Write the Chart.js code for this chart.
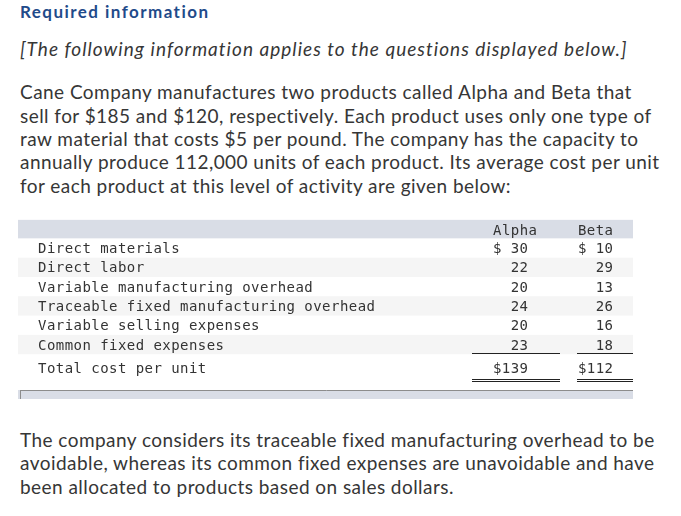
<!DOCTYPE html>
<html>
<head>
<meta charset="utf-8">
<script src="https://cdn.jsdelivr.net/npm/chart.js@4.4.1/dist/chart.umd.min.js"></script>
<style>
  body { margin: 0; width: 681px; height: 516px; background: #fff; position: relative; overflow: hidden; color: #363636; font-family: Lato, "Open Sans", sans-serif; }
  .ln { position: absolute; left: 20px; white-space: nowrap; height: 23px; line-height: 23px; font-size: 19px; letter-spacing: 0.45px; }
  .title { font-weight: bold; color: #1f4b8a; font-size: 17px; letter-spacing: 1.45px; }
  .note { font-style: italic; letter-spacing: 1.03px; }
  #tableWrap { position: absolute; left: 0; top: 210px; width: 681px; height: 200px; }
</style>
</head>
<body>
<div class="ln title" style="top:0px">Required information</div>
<div class="ln note" style="top:37px">[The following information applies to the questions displayed below.]</div>

<div class="ln" style="top:80px">Cane Company manufactures two products called Alpha and Beta that</div>
<div class="ln" style="top:104px">sell for $185 and $120, respectively. Each product uses only one type of</div>
<div class="ln" style="top:127px">raw material that costs $5 per pound. The company has the capacity to</div>
<div class="ln" style="top:150px">annually produce 112,000 units of each product. Its average cost per unit</div>
<div class="ln" style="top:174px">for each product at this level of activity are given below:</div>

<div id="tableWrap"><canvas id="costTable" width="681" height="200"></canvas></div>

<div class="ln" style="top:428px">The company considers its traceable fixed manufacturing overhead to be</div>
<div class="ln" style="top:451px">avoidable, whereas its common fixed expenses are unavoidable and have</div>
<div class="ln" style="top:475px">been allocated to products based on sales dollars.</div>

<script>
// table data
const rowLabels = [
  "Direct materials",
  "Direct labor",
  "Variable manufacturing overhead",
  "Traceable fixed manufacturing overhead",
  "Variable selling expenses",
  "Common fixed expenses",
  "Total cost per unit"
];
const productNames = ["Alpha", "Beta"];
const alphaCosts = [30, 22, 20, 24, 20, 23, 139];
const betaCosts = [10, 29, 13, 26, 16, 18, 112];

// layout of the two money columns (cell edges, text right edge, header right edge)
const moneyCols = [
  { left: 472, right: 560, textRight: 528, headRight: 537 },
  { left: 577, right: 633, textRight: 613, headRight: 613 }
];
const TOTAL_GAP = 4.2;
const TEXT_SHIFT = 1.5;
const monoFont = '14px "DejaVu Sans Mono", "Liberation Mono", monospace';

function fmt(v, i, last) {
  if (i === 0 || i === last) return "$" + String(v).padStart(3, " ");
  return String(v);
}

const tablePlugin = {
  id: "costTable",
  beforeDatasetsDraw(chart) {
    const { ctx, chartArea: a, scales: { y } } = chart;
    const band = y.getPixelForValue(1) - y.getPixelForValue(0);
    const last = rowLabels.length - 1;
    ctx.save();
    // header band
    ctx.fillStyle = "#d9dde6";
    ctx.fillRect(a.left, a.top - 18.5, a.right - a.left, 18.5);
    // striped rows
    ctx.fillStyle = "#f5f5f5";
    rowLabels.forEach((l, i) => {
      if (i % 2 === 1 && i < last) {
        ctx.fillRect(a.left, y.getPixelForValue(i) - band / 2, a.right - a.left, band);
      }
    });
    // bottom band
    const totalY = y.getPixelForValue(last) + TOTAL_GAP;
    const bandTop = Math.round(totalY + 22);
    ctx.fillStyle = "#d9dde6";
    ctx.fillRect(a.left, bandTop, a.right - a.left, 9);
    ctx.strokeStyle = "#8c8c8c";
    ctx.lineWidth = 1;
    ctx.beginPath();
    ctx.moveTo(a.left + 2, bandTop + 0.5);
    ctx.lineTo(a.right, bandTop + 0.5);
    ctx.moveTo(a.left + 2.5, bandTop);
    ctx.lineTo(a.left + 2.5, bandTop + 9);
    ctx.stroke();
    ctx.restore();
  },
  afterDatasetsDraw(chart) {
    const { ctx, chartArea: a, scales: { y } } = chart;
    const band = y.getPixelForValue(1) - y.getPixelForValue(0);
    const last = rowLabels.length - 1;
    const series = chart.data.datasets.map(d => d.data);
    ctx.save();
    ctx.font = monoFont;
    ctx.letterSpacing = "0.45px";
    ctx.fillStyle = "#333";
    ctx.textBaseline = "middle";
    // headers
    ctx.textAlign = "right";
    productNames.forEach((name, c) => {
      ctx.fillText(name, moneyCols[c].headRight + 0.5, a.top - 8 + TEXT_SHIFT);
    });
    rowLabels.forEach((label, i) => {
      const py = y.getPixelForValue(i) + (i === last ? TOTAL_GAP : 0) + TEXT_SHIFT;
      ctx.textAlign = "left";
      ctx.fillText(label, a.left + 20, py);
      ctx.textAlign = "right";
      series.forEach((vals, c) => {
        ctx.fillText(fmt(vals[i], i, last), moneyCols[c].textRight + 0.5, py);
      });
    });
    // underline under last item, double under total
    const lineY = Math.round(y.getPixelForValue(last - 1) + band / 2) - 0.5;
    const totalY = y.getPixelForValue(last) + TOTAL_GAP;
    const dblY = Math.round(totalY + 11) + 0.5;
    ctx.strokeStyle = "#222";
    ctx.lineWidth = 1;
    ctx.beginPath();
    moneyCols.forEach(col => {
      ctx.moveTo(col.left, lineY); ctx.lineTo(col.right, lineY);
      ctx.moveTo(col.left, dblY); ctx.lineTo(col.right, dblY);
      ctx.moveTo(col.left, dblY + 2); ctx.lineTo(col.right, dblY + 2);
    });
    ctx.stroke();
    ctx.restore();
  }
};

new Chart(document.getElementById("costTable"), {
  type: "bar",
  data: {
    labels: rowLabels,
    datasets: [
      { label: productNames[0], data: alphaCosts, backgroundColor: "rgba(0,0,0,0)" },
      { label: productNames[1], data: betaCosts, backgroundColor: "rgba(0,0,0,0)" }
    ]
  },
  options: {
    indexAxis: "y",
    responsive: false,
    animation: false,
    events: [],
    layout: { padding: { top: 28.35, bottom: 36.5, left: 18, right: 48 } },
    plugins: { legend: { display: false }, tooltip: { enabled: false } },
    scales: {
      x: { display: false, min: 0, max: 150 },
      y: { display: false, offset: true }
    }
  },
  plugins: [tablePlugin]
});
</script>
</body>
</html>
